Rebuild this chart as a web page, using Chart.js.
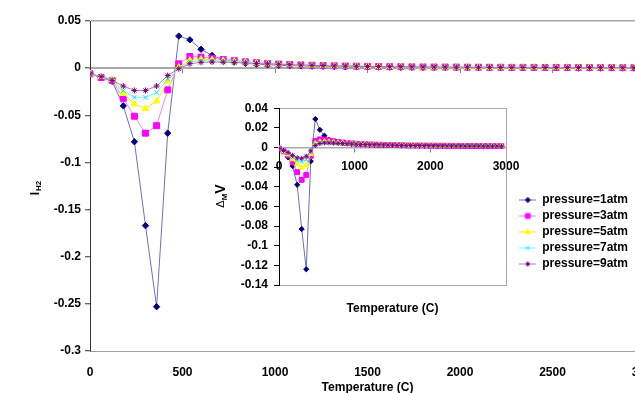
<!DOCTYPE html>
<html>
<head>
<meta charset="utf-8">
<script src="https://cdn.jsdelivr.net/npm/chart.js@4.4.0/dist/chart.umd.min.js"></script>
<style>
html, body { margin: 0; padding: 0; background: #fff; overflow: hidden; }
#wrap { position: relative; width: 635px; height: 393px; overflow: hidden; background: #fff; }
#mainChart { position: absolute; left: 0; top: 0; }
#insetChart { position: absolute; left: 200px; top: 95px; }
</style>
</head>
<body>
<div id="wrap">
  <canvas id="mainChart" width="665" height="393"></canvas>
  <canvas id="insetChart" width="440" height="262"></canvas>
</div>
<script>
// temperatures (C)
const temps = [
  0, 60, 120, 180, 240, 300, 360, 420, 480, 540,
  600, 660, 720, 780, 840, 900, 960, 1020, 1080, 1140,
  1200, 1260, 1320, 1380, 1440, 1500, 1560, 1620, 1680, 1740,
  1800, 1860, 1920, 1980, 2040, 2100, 2160, 2220, 2280, 2340,
  2400, 2460, 2520, 2580, 2640, 2700, 2760, 2820, 2880, 2940
]

const seriesNames = ['pressure=1atm', 'pressure=3atm', 'pressure=5atm', 'pressure=7atm', 'pressure=9atm']

// huvuddiagram: I_H2
const ih2P1 = [
  -0.006, -0.010, -0.014, -0.040, -0.078, -0.167, -0.253, -0.069, 0.034, 0.030,
  0.020, 0.0135, 0.0090, 0.0068, 0.0052, 0.0043, 0.0036, 0.0031, 0.0027, 0.0024,
  0.0021, 0.0019, 0.0017, 0.0015, 0.0014, 0.0013, 0.0012, 0.0011, 0.0010, 0.0010,
  0.0009, 0.0009, 0.0008, 0.0008, 0.0007, 0.0007, 0.0007, 0.0006, 0.0006, 0.0006,
  0.0005, 0.0005, 0.0005, 0.0005, 0.0004, 0.0004, 0.0004, 0.0004, 0.0004, 0.0003
]
const ih2P3 = [
  -0.006, -0.010, -0.013, -0.032, -0.051, -0.069, -0.061, -0.023, 0.0046, 0.0124,
  0.0117, 0.0105, 0.0092, 0.0080, 0.0068, 0.0058, 0.0050, 0.0044, 0.0039, 0.0035,
  0.0031, 0.0028, 0.0025, 0.0023, 0.0021, 0.0019, 0.0018, 0.0016, 0.0015, 0.0014,
  0.0013, 0.0012, 0.0012, 0.0011, 0.0010, 0.0010, 0.0009, 0.0009, 0.0008, 0.0008,
  0.0008, 0.0007, 0.0007, 0.0007, 0.0006, 0.0006, 0.0006, 0.0006, 0.0005, 0.0005
]
const ih2P5 = [
  -0.006, -0.009, -0.012, -0.027, -0.038, -0.043, -0.035, -0.014, 0.0010, 0.0082,
  0.0093, 0.0088, 0.0080, 0.0072, 0.0063, 0.0055, 0.0048, 0.0043, 0.0038, 0.0034,
  0.0030, 0.0027, 0.0025, 0.0023, 0.0021, 0.0019, 0.0018, 0.0016, 0.0015, 0.0014,
  0.0013, 0.0012, 0.0012, 0.0011, 0.0010, 0.0010, 0.0009, 0.0009, 0.0008, 0.0008,
  0.0008, 0.0007, 0.0007, 0.0007, 0.0006, 0.0006, 0.0006, 0.0005, 0.0005, 0.0005
]
const ih2P7 = [
  -0.006, -0.009, -0.012, -0.024, -0.031, -0.031, -0.026, -0.0115, -0.0005, 0.0066,
  0.0078, 0.0078, 0.0073, 0.0067, 0.0060, 0.0053, 0.0047, 0.0042, 0.0037, 0.0033,
  0.0030, 0.0027, 0.0024, 0.0022, 0.0020, 0.0019, 0.0017, 0.0016, 0.0015, 0.0014,
  0.0013, 0.0012, 0.0011, 0.0011, 0.0010, 0.0009, 0.0009, 0.0008, 0.0008, 0.0008,
  0.0007, 0.0007, 0.0007, 0.0006, 0.0006, 0.0006, 0.0005, 0.0005, 0.0005, 0.0005
]
const ih2P9 = [
  -0.006, -0.009, -0.013, -0.019, -0.0237, -0.0237, -0.019, -0.0078, -0.0006, 0.0047,
  0.0061, 0.0065, 0.0063, 0.0060, 0.0055, 0.0050, 0.0045, 0.0041, 0.0037, 0.0033,
  0.0030, 0.0027, 0.0024, 0.0022, 0.0020, 0.0018, 0.0017, 0.0016, 0.0015, 0.0014,
  0.0013, 0.0012, 0.0011, 0.0010, 0.0010, 0.0009, 0.0009, 0.0008, 0.0008, 0.0007,
  0.0007, 0.0007, 0.0006, 0.0006, 0.0006, 0.0005, 0.0005, 0.0005, 0.0005, 0.0004
]

// infällt diagram: delta_M V
const dmvP1 = [
  -0.001, -0.004, -0.010, -0.019, -0.038, -0.083, -0.124, -0.014, 0.029, 0.018,
  0.012, 0.0078, 0.0060, 0.0050, 0.0044, 0.0040, 0.0036, 0.0033, 0.0031, 0.0029,
  0.0027, 0.0026, 0.0025, 0.0024, 0.0023, 0.0022, 0.0021, 0.0020, 0.0020, 0.0019,
  0.0019, 0.0018, 0.0018, 0.0017, 0.0017, 0.0016, 0.0016, 0.0016, 0.0015, 0.0015,
  0.0015, 0.0014, 0.0014, 0.0014, 0.0014, 0.0013, 0.0013, 0.0013, 0.0013, 0.0012
]
const dmvP3 = [
  -0.001, -0.004, -0.008, -0.015, -0.025, -0.033, -0.028, -0.0086, 0.0066, 0.0083,
  0.0080, 0.0072, 0.0064, 0.0057, 0.0051, 0.0046, 0.0042, 0.0039, 0.0036, 0.0034,
  0.0032, 0.0030, 0.0028, 0.0027, 0.0026, 0.0025, 0.0024, 0.0023, 0.0022, 0.0021,
  0.0021, 0.0020, 0.0020, 0.0019, 0.0019, 0.0018, 0.0018, 0.0017, 0.0017, 0.0017,
  0.0016, 0.0016, 0.0016, 0.0015, 0.0015, 0.0015, 0.0015, 0.0014, 0.0014, 0.0014
]
const dmvP5 = [
  -0.001, -0.004, -0.007, -0.012, -0.017, -0.0205, -0.018, -0.0065, 0.0040, 0.0058,
  0.0060, 0.0057, 0.0053, 0.0049, 0.0045, 0.0042, 0.0039, 0.0037, 0.0035, 0.0033,
  0.0031, 0.0029, 0.0028, 0.0027, 0.0026, 0.0025, 0.0024, 0.0023, 0.0022, 0.0021,
  0.0021, 0.0020, 0.0020, 0.0019, 0.0019, 0.0018, 0.0018, 0.0017, 0.0017, 0.0017,
  0.0016, 0.0016, 0.0016, 0.0015, 0.0015, 0.0015, 0.0015, 0.0014, 0.0014, 0.0014
]
const dmvP7 = [
  -0.001, -0.003, -0.006, -0.010, -0.013, -0.0145, -0.0125, -0.0050, 0.0030, 0.0048,
  0.0052, 0.0050, 0.0047, 0.0044, 0.0041, 0.0039, 0.0037, 0.0035, 0.0033, 0.0031,
  0.0030, 0.0028, 0.0027, 0.0026, 0.0025, 0.0024, 0.0023, 0.0022, 0.0022, 0.0021,
  0.0020, 0.0020, 0.0019, 0.0019, 0.0018, 0.0018, 0.0017, 0.0017, 0.0017, 0.0016,
  0.0016, 0.0016, 0.0015, 0.0015, 0.0015, 0.0015, 0.0014, 0.0014, 0.0014, 0.0014
]
const dmvP9 = [
  -0.001, -0.003, -0.005, -0.008, -0.0105, -0.011, -0.009, -0.0035, 0.0020, 0.0040,
  0.0046, 0.0046, 0.0044, 0.0042, 0.0040, 0.0038, 0.0036, 0.0034, 0.0032, 0.0031,
  0.0029, 0.0028, 0.0027, 0.0026, 0.0025, 0.0024, 0.0023, 0.0022, 0.0021, 0.0021,
  0.0020, 0.0020, 0.0019, 0.0019, 0.0018, 0.0018, 0.0017, 0.0017, 0.0016, 0.0016,
  0.0016, 0.0015, 0.0015, 0.0015, 0.0015, 0.0014, 0.0014, 0.0014, 0.0014, 0.0013
]

// axelmarkeringar
const mainXTicks = [0, 500, 1000, 1500, 2000, 2500, 3000]
const mainYTicks = [0.05, 0, -0.05, -0.1, -0.15, -0.2, -0.25, -0.3]
const insetXTicks = [0, 1000, 2000, 3000]
const insetYTicks = [0.04, 0.02, 0, -0.02, -0.04, -0.06, -0.08, -0.1, -0.12, -0.14]

const FONT = '"Liberation Sans", Arial, sans-serif'
const tickFont = { family: FONT, size: 12, weight: 'bold' }

// Excel-liknande färger och markörer
const seriesStyle = [
    { line: '#7070b8', mark: '#000080', shape: 'rectRot', r: 3.2, ri: 2.6 },
    { line: '#ff7cff', mark: '#ff00ff', shape: 'rect', r: 4.2, ri: 3.4 },
    { line: '#f0f000', mark: '#ffff00', shape: 'triangle', r: 3.8, ri: 3 },
    { line: '#70ffff', mark: '#00e8f0', shape: 'crossRot', r: 3, ri: 2.5 },
    { line: '#b07cb8', mark: '#800080', shape: 'star', r: 3, ri: 2.5 }
]

function makeDataset(values, i, inset) {
    const st = seriesStyle[i]
    return {
        label: seriesNames[i],
        data: temps.map((t, k) => ({ x: t, y: values[k] })),
        borderColor: st.line,
        borderWidth: 1,
        backgroundColor: st.mark,
        pointStyle: st.shape,
        pointRadius: inset ? st.ri : st.r,
        pointBorderColor: st.mark,
        pointBackgroundColor: st.mark,
        pointBorderWidth: 1,
        tension: 0,
        order: 4 - i
    }
}

// små bilder: linje + markör för legenden
const legendSymbols = seriesStyle.map((st) => {
    const c = document.createElement('canvas')
    c.width = 17
    c.height = 9
    const g = c.getContext('2d')
    g.strokeStyle = st.line
    g.lineWidth = 1
    g.beginPath()
    g.moveTo(0, 4.5)
    g.lineTo(17, 4.5)
    g.stroke()
    g.fillStyle = st.mark
    g.strokeStyle = st.mark
    Chart.helpers.drawPoint(g, { pointStyle: st.shape, radius: st.ri, borderWidth: 1, rotation: 0 }, 8.5, 4.5)
    return c
})

const ticksFrom = (arr) => (s) => { s.ticks = arr.map((v) => ({ value: v })) }
const clear = 'rgba(0,0,0,0)'

// y-titel med nedsänkt text
const mainTitle = {
    id: 'mainYTitle',
    afterDraw(chart) {
        const ctx = chart.ctx
        ctx.save()
        ctx.translate(35, 188)
        ctx.rotate(-Math.PI / 2)
        ctx.fillStyle = '#000'
        ctx.font = 'bold 12px ' + FONT
        const w1 = ctx.measureText('I').width
        ctx.font = 'bold 8px ' + FONT
        const w2 = ctx.measureText('H2').width
        const start = -(w1 + w2 + 1) / 2
        ctx.font = 'bold 12px ' + FONT
        ctx.fillText('I', start, 4)
        ctx.font = 'bold 8px ' + FONT
        ctx.fillText('H2', start + w1 + 1, 6)
        ctx.restore()
    }
}

const insetTitle = {
    id: 'insetYTitle',
    afterDraw(chart) {
        const ctx = chart.ctx
        ctx.save()
        ctx.translate(20, 101)
        ctx.rotate(-Math.PI / 2)
        ctx.fillStyle = '#000'
        ctx.font = '11px ' + FONT
        const w1 = ctx.measureText('\u0394').width
        ctx.font = 'bold 8px ' + FONT
        const w2 = ctx.measureText('M').width
        ctx.font = 'bold 14px ' + FONT
        const w3 = ctx.measureText('V').width
        const start = -(w1 + w2 + w3) / 2
        ctx.font = '11px ' + FONT
        ctx.fillText('\u0394', start, 4)
        ctx.font = 'bold 8px ' + FONT
        ctx.fillText('M', start + w1, 7)
        ctx.font = 'bold 14px ' + FONT
        ctx.fillText('V', start + w1 + w2, 5)
        ctx.restore()
    }
}

// huvuddiagram
new Chart(document.getElementById('mainChart'), {
    type: 'line',
    data: {
        datasets: [ih2P1, ih2P3, ih2P5, ih2P7, ih2P9].map((v, i) => makeDataset(v, i, false))
    },
    options: {
        responsive: false,
        animation: false,
        layout: { padding: { top: 21, right: 20, bottom: 0, left: 0 } },
        plugins: { legend: { display: false }, tooltip: { enabled: false } },
        scales: {
            x: {
                type: 'linear',
                position: 'bottom',
                min: 0,
                max: 3000,
                afterBuildTicks: ticksFrom(mainXTicks),
                afterFit: (s) => { s.height = 42 },
                grid: { display: false, drawTicks: true, tickLength: 12 },
                border: { display: true, color: '#a0a0a0', width: 1 },
                ticks: { padding: 2, font: tickFont, color: '#000', maxRotation: 0, callback: (v) => String(v) },
                title: { display: true, text: 'Temperature (C)', font: tickFont, color: '#000', padding: { top: 0, bottom: -2 } }
            },
            x2: {
                type: 'linear',
                axis: 'x',
                position: { y: 0 },
                min: 0,
                max: 3000,
                afterBuildTicks: ticksFrom(mainXTicks),
                ticks: { display: false },
                grid: { drawOnChartArea: false, drawTicks: true, tickLength: 4, color: '#888' },
                border: { color: '#a8a8a8', width: 2 }
            },
            y: {
                type: 'linear',
                min: -0.3,
                max: 0.05,
                afterBuildTicks: ticksFrom(mainYTicks),
                afterFit: (s) => { s.width = 90 },
                grid: {
                    color: (c) => (c.tick && c.tick.value === 0.05 ? '#a8a8a8' : clear),
                    lineWidth: 1.5,
                    tickColor: '#333',
                    tickWidth: 1,
                    tickLength: 5
                },
                border: { color: '#333', width: 1 },
                ticks: { padding: 4, font: tickFont, color: '#000', callback: (v) => String(v) }
            }
        }
    },
    plugins: [mainTitle]
})

// infällt diagram, canvasbredd räknas så att legenden hamnar rätt
const insetCanvas = document.getElementById('insetChart')
const mctx = document.createElement('canvas').getContext('2d')
mctx.font = 'bold 12px ' + FONT
const textW = Math.max(...seriesNames.map((n) => mctx.measureText(n).width))
insetCanvas.width = Math.ceil(314.7 + 37 + textW)
const legendLeft = insetCanvas.width - 37 - textW
const rightGap = legendLeft - 306

new Chart(insetCanvas, {
    type: 'line',
    data: {
        datasets: [dmvP1, dmvP3, dmvP5, dmvP7, dmvP9].map((v, i) => makeDataset(v, i, true))
    },
    options: {
        responsive: false,
        animation: false,
        layout: { padding: { top: 12, right: 0, bottom: 0, left: 0 } },
        plugins: {
            tooltip: { enabled: false },
            legend: {
                display: true,
                position: 'right',
                align: 'center',
                maxWidth: 400,
                labels: {
                    usePointStyle: true,
                    pointStyleWidth: 17,
                    padding: 4,
                    font: tickFont,
                    color: '#000',
                    generateLabels: (chart) => chart.data.datasets.map((ds, i) => ({
                        text: ds.label,
                        pointStyle: legendSymbols[i],
                        datasetIndex: i,
                        hidden: false,
                        lineWidth: 0,
                        fillStyle: clear,
                        strokeStyle: clear,
                        fontColor: '#000'
                    }))
                }
            }
        },
        scales: {
            x: {
                type: 'linear',
                position: { y: 0 },
                min: 0,
                max: 3000,
                afterBuildTicks: ticksFrom(insetXTicks),
                grid: { drawOnChartArea: false, tickLength: 4, color: '#888' },
                border: { color: '#a8a8a8', width: 1.5 },
                ticks: { padding: 8, font: tickFont, color: '#000', maxRotation: 0, callback: (v) => String(v) }
            },
            xb: {
                type: 'linear',
                axis: 'x',
                position: 'bottom',
                min: 0,
                max: 3000,
                afterFit: (s) => { s.height = 72 },
                ticks: { display: false },
                grid: { display: false },
                border: { display: false },
                title: { display: true, text: 'Temperature (C)', font: tickFont, color: '#000', padding: { top: 0, bottom: 41 } }
            },
            y: {
                type: 'linear',
                position: 'left',
                min: -0.14,
                max: 0.04,
                afterBuildTicks: ticksFrom(insetYTicks),
                afterFit: (s) => { s.width = 79 },
                grid: {
                    color: (c) => (c.tick && (c.tick.value === 0.04 || c.tick.value === -0.14) ? '#a8a8a8' : clear),
                    tickColor: '#000',
                    tickWidth: 1,
                    tickLength: 5
                },
                border: { color: '#000', width: 1 },
                ticks: { padding: 6, font: tickFont, color: '#000', callback: (v) => String(v) }
            },
            yr: {
                type: 'linear',
                axis: 'y',
                position: 'right',
                min: -0.14,
                max: 0.04,
                afterFit: (s) => { s.width = rightGap },
                ticks: { display: false },
                grid: { drawOnChartArea: false, drawTicks: false },
                border: { color: '#a8a8a8', width: 1 }
            }
        }
    },
    plugins: [insetTitle]
})
</script>
</body>
</html>
